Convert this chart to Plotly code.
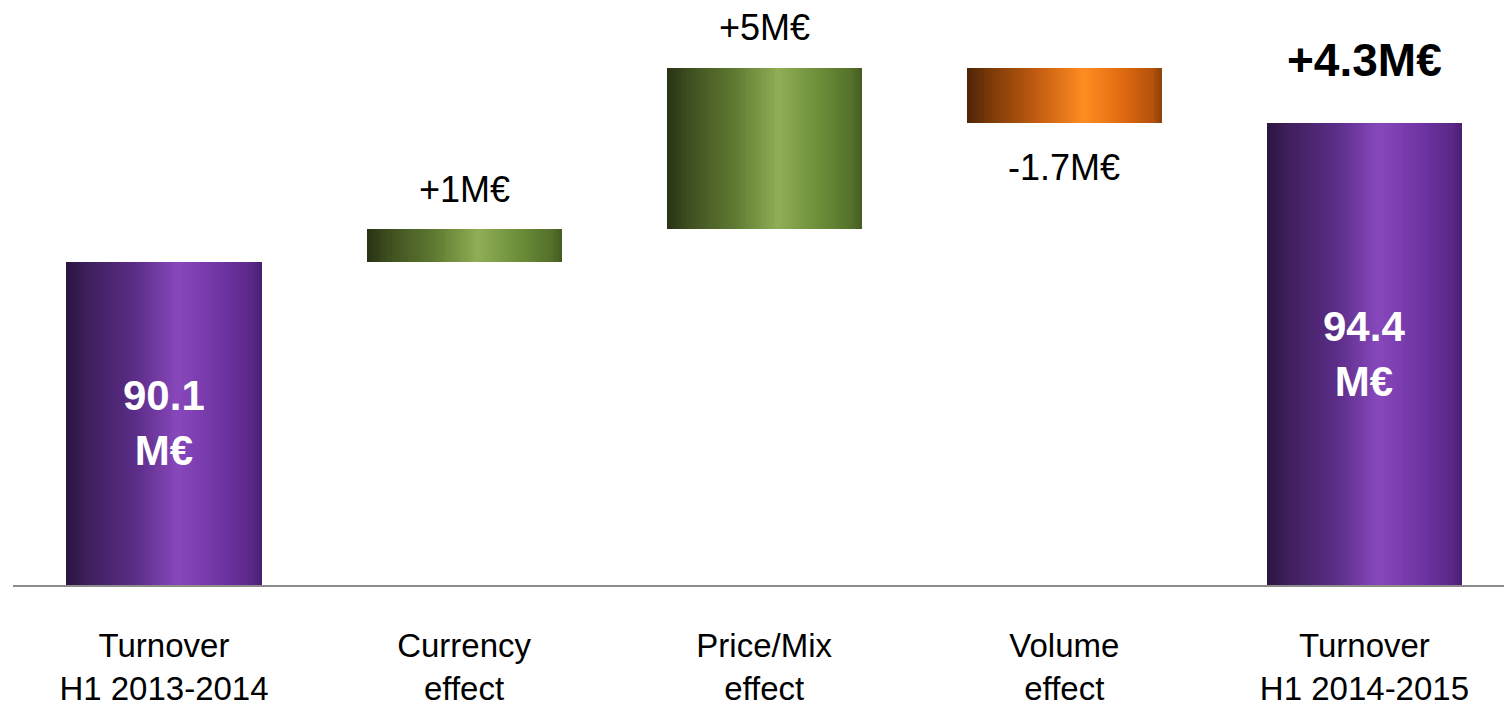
import plotly.graph_objects as go
from plotly.colors import sample_colorscale

# ---- data ----
categories = [
    "Turnover<br>H1 2013-2014",
    "Currency<br>effect",
    "Price/Mix<br>effect",
    "Volume<br>effect",
    "Turnover<br>H1 2014-2015",
]
values = [90.1, 1.0, 5.0, -1.7, 94.4]
measures = ["absolute", "relative", "relative", "relative", "total"]

# visible window of the value axis (axis is cut above zero)
Y_FLOOR = 80.1
Y_CEIL = 98.2

FONT = "Liberation Sans Narrow, Arial Narrow, Liberation Sans, Arial, sans-serif"

# cylinder-like horizontal shading for each bar family
PURPLE = [[0, "#2a1540"], [0.12, "#40205f"], [0.35, "#5a2c86"], [0.57, "#8848bc"],
          [0.8, "#6e32a2"], [0.95, "#5a2888"], [1, "#4a2070"]]
GREEN = [[0, "#283214"], [0.12, "#3f5020"], [0.35, "#5f7a32"], [0.57, "#8fae55"],
         [0.8, "#6a8a38"], [0.95, "#54702a"], [1, "#445c20"]]
ORANGE = [[0, "#4e2408"], [0.12, "#7a3a08"], [0.35, "#c05a10"], [0.6, "#ff8c22"],
          [0.8, "#e06a10"], [0.95, "#b5520c"], [1, "#8f400a"]]

# ---- waterfall geometry ----
xs = list(range(len(categories)))
bases, heights, tops, scales = [], [], [], []
running = 0.0
for v, m in zip(values, measures):
    if m == "absolute":
        running = v
        bases.append(0.0)
        heights.append(v)
        scales.append(PURPLE)
    elif m == "total":
        bases.append(0.0)
        heights.append(running)
        scales.append(PURPLE)
    else:
        start = running
        running = start + v
        bases.append(min(start, running))
        heights.append(abs(v))
        scales.append(GREEN if v >= 0 else ORANGE)
    tops.append(bases[-1] + heights[-1])

BAR_W = 0.65
N_STRIPS = 70
step = BAR_W / N_STRIPS

fig = go.Figure()
for k in range(N_STRIPS):
    t = (k + 0.5) / N_STRIPS
    colors = [sample_colorscale(cs, [t])[0] for cs in scales]
    w = step * 1.6 if k < N_STRIPS - 1 else step
    fig.add_trace(go.Bar(
        x=xs, y=heights, base=bases,
        offset=-BAR_W / 2 + k * step, width=w,
        marker=dict(color=colors, line=dict(width=0)),
        showlegend=False, hoverinfo="skip",
    ))

# ---- labels ----
annotations = []
for i, (v, m) in enumerate(zip(values, measures)):
    if m in ("absolute", "total"):
        annotations.append(dict(
            x=i, y=(Y_FLOOR + tops[i]) / 2, text=f"<b>{v:g}<br>M€</b>",
            showarrow=False, font=dict(family=FONT, size=42, color="white"),
            xanchor="center", yanchor="middle",
        ))
    else:
        sign = "+" if v > 0 else "-"
        if v > 0:
            annotations.append(dict(
                x=i, y=tops[i], text=f"{sign}{abs(v):g}M€", showarrow=False,
                font=dict(family=FONT, size=36, color="black"),
                xanchor="center", yanchor="middle", yshift=40,
            ))
        else:
            annotations.append(dict(
                x=i, y=bases[i], text=f"{sign}{abs(v):g}M€", showarrow=False,
                font=dict(family=FONT, size=36, color="black"),
                xanchor="center", yanchor="middle", yshift=-45,
            ))

# overall change above the closing bar
delta = values[-1] - values[0]
annotations.append(dict(
    x=len(values) - 1, y=tops[-1], text=f"<b>{delta:+.1f}M€</b>", showarrow=False,
    font=dict(family=FONT, size=46, color="black"),
    xanchor="center", yanchor="middle", yshift=63,
))

fig.update_layout(
    width=1504, height=708,
    margin=dict(l=13, r=0, t=0, b=123),
    paper_bgcolor="white", plot_bgcolor="white",
    barmode="overlay", bargap=0,
    showlegend=False,
    annotations=annotations,
    xaxis=dict(
        range=[-0.503, 4.465], tickvals=xs, ticktext=categories,
        showline=True, linecolor="#8c8c8c", linewidth=2,
        showgrid=False, zeroline=False, ticks="",
        tickfont=dict(family=FONT, size=33, color="black"),
        ticklabelstandoff=30,
    ),
    yaxis=dict(range=[Y_FLOOR, Y_CEIL], visible=False, fixedrange=True),
)

fig.write_html("out.html")
